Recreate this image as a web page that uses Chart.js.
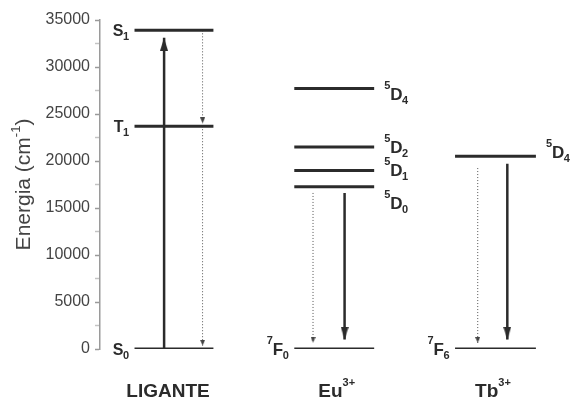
<!DOCTYPE html>
<html>
<head>
<meta charset="utf-8">
<script src="https://cdn.jsdelivr.net/npm/chart.js@4.4.1/dist/chart.umd.min.js"></script>
<style>
  html, body { margin: 0; padding: 0; background: #fff; }
  #wrap { width: 572px; height: 401px; }
</style>
</head>
<body>
<div id="wrap"><canvas id="levels"></canvas></div>
<script>
// Energy level diagram: ligand vs Eu3+ / Tb3+ (values in cm-1)
const yTickValues = [0, 2500, 5000, 7500, 10000, 12500, 15000, 17500, 20000, 22500, 25000, 27500, 30000, 32500, 35000];
const yTitle = ['Energia (cm', '-1', ')'];

const columnNames = ['LIGANTE', 'Eu', 'Tb'];
const columnCharges = ['', '3+', '3+'];

const ligandLevels = [33900, 23700, 0];
const ligandTerms = [['', 'S', '1'], ['', 'T', '1'], ['', 'S', '0']];
const euLevels = [27700, 21500, 19000, 17250, 0];
const euTerms = [['5', 'D', '4'], ['5', 'D', '2'], ['5', 'D', '1'], ['5', 'D', '0'], ['7', 'F', '0']];
const tbLevels = [20500, 0];
const tbTerms = [['5', 'D', '4'], ['7', 'F', '6']];

// transitions [from, to]
const ligandAbsorption = [0, 33100];
const ligandIsc = [33900, 24000];
const ligandDecay = [23700, 350];
const euTransfer = [16600, 670];
const euEmission = [16600, 1000];
const tbTransfer = [19250, 640];
const tbEmission = [19700, 1000];

// layout (x units), kept apart from the data
const SPAN = [[3.5, 11.5], [19.7, 27.8], [36, 44.2]];
const ARROW_X = { ligUp: 6.5, ligDot: 10.4, euDot: 21.6, euSolid: 24.8, tbDot: 38.3, tbSolid: 41.3 };
const LABEL_SHIFT = { '1:0': 5, '1:3': 16, '2:0': -4 };
const NAME_SHIFT = [-6, 2.5, -2.5];
const INK = '#2b2b2b';
const FONT = '"Liberation Sans", Arial, sans-serif';

function makeHead(w, len, color) {
  // pointing down, tip at the canvas centre
  const c = document.createElement('canvas');
  c.width = w; c.height = len * 2;
  const g = c.getContext('2d');
  g.fillStyle = color;
  g.beginPath(); g.moveTo(0, 0); g.lineTo(w, 0); g.lineTo(w / 2, len); g.closePath(); g.fill();
  return c;
}
const bigHead = makeHead(8, 13, INK);
const smallHead = makeHead(5, 6, '#444');

function levelSet(col, energies) {
  return energies.map(e => ({
    data: [{ x: SPAN[col][0], y: e }, { x: SPAN[col][1], y: e }],
    borderColor: INK, borderWidth: 3, pointRadius: 0,
  }));
}
function arrow(x, tr, dotted) {
  return {
    data: [{ x, y: tr[0] }, { x, y: tr[1] }],
    borderColor: dotted ? '#555' : INK,
    borderWidth: dotted ? 1 : 2.5,
    borderDash: dotted ? [1, 2] : [],
    pointStyle: dotted ? smallHead : bigHead,
    pointRadius: [0, 4],
    pointRotation: tr[1] > tr[0] ? 180 : 0,
  };
}

const datasets = [
  ...levelSet(0, ligandLevels), ...levelSet(1, euLevels), ...levelSet(2, tbLevels),
  arrow(ARROW_X.ligUp, ligandAbsorption, false),
  arrow(ARROW_X.ligDot, ligandIsc, true),
  arrow(ARROW_X.ligDot, ligandDecay, true),
  arrow(ARROW_X.euDot, euTransfer, true),
  arrow(ARROW_X.euSolid, euEmission, false),
  arrow(ARROW_X.tbDot, tbTransfer, true),
  arrow(ARROW_X.tbSolid, tbEmission, false),
];

function drawTerm(ctx, x, y, term, side, size) {
  const [sup, base, sub] = term;
  const small = 11;
  ctx.font = `bold ${size}px ${FONT}`;
  const bw = ctx.measureText(base).width;
  ctx.font = `bold ${small}px ${FONT}`;
  const supW = sup ? ctx.measureText(sup).width : 0;
  const subW = sub ? ctx.measureText(sub).width : 0;
  const total = supW + bw + subW;
  let left = side === 'left' ? x - total : x;
  const capH = size * 0.716;
  const baseline = y + capH / 2;
  ctx.textAlign = 'left';
  ctx.textBaseline = 'alphabetic';
  ctx.fillStyle = INK;
  if (sup) { ctx.font = `bold ${small}px ${FONT}`; ctx.fillText(sup, left, baseline - capH + 1); }
  ctx.font = `bold ${size}px ${FONT}`;
  ctx.fillText(base, left + supW, baseline);
  if (sub) { ctx.font = `bold ${small}px ${FONT}`; ctx.fillText(sub, left + supW + bw - 0.5, baseline + 4); }
}

const labelPlugin = {
  id: 'labels',
  afterDatasetsDraw(chart) {
    const { ctx, scales: { x, y }, chartArea } = chart;
    ctx.save();
    const cols = [[ligandLevels, ligandTerms], [euLevels, euTerms], [tbLevels, tbTerms]];
    cols.forEach(([lv, terms], c) => {
      lv.forEach((e, i) => {
        const left = c === 0 || e === 0;
        const px = left ? x.getPixelForValue(SPAN[c][0]) - 5 : x.getPixelForValue(SPAN[c][1]) + 10;
        const py = y.getPixelForValue(e) + (LABEL_SHIFT[c + ':' + i] || 0);
        drawTerm(ctx, px, py, terms[i], left ? 'left' : 'right', c === 0 ? 16 : 17);
      });
    });
    // column names
    columnNames.forEach((name, c) => {
      ctx.font = `bold 19px ${FONT}`;
      const w = ctx.measureText(name).width;
      ctx.font = `bold 11px ${FONT}`;
      const sw = columnCharges[c] ? ctx.measureText(columnCharges[c]).width : 0;
      const cx = x.getPixelForValue((SPAN[c][0] + SPAN[c][1]) / 2) + NAME_SHIFT[c];
      const l = cx - (w + sw) / 2;
      const bl = chartArea.bottom + 48;
      ctx.fillStyle = INK; ctx.textAlign = 'left'; ctx.textBaseline = 'alphabetic';
      ctx.font = `bold 19px ${FONT}`; ctx.fillText(name, l, bl);
      if (sw) { ctx.font = `bold 11px ${FONT}`; ctx.fillText(columnCharges[c], l + w, bl - 11); }
    });
    // y axis title, rotated
    ctx.translate(24, (chartArea.top + chartArea.bottom) / 2);
    ctx.rotate(-Math.PI / 2);
    ctx.fillStyle = '#444';
    ctx.font = `21px ${FONT}`;
    const w0 = ctx.measureText(yTitle[0]).width, w2 = ctx.measureText(yTitle[2]).width;
    ctx.font = `13px ${FONT}`;
    const w1 = ctx.measureText(yTitle[1]).width;
    let tx = -(w0 + w1 + w2) / 2;
    ctx.textBaseline = 'middle'; ctx.textAlign = 'left';
    ctx.font = `21px ${FONT}`; ctx.fillText(yTitle[0], tx, 0); tx += w0;
    ctx.font = `13px ${FONT}`; ctx.fillText(yTitle[1], tx, -8); tx += w1;
    ctx.font = `21px ${FONT}`; ctx.fillText(yTitle[2], tx, 0);
    ctx.restore();
  }
};

new Chart(document.getElementById('levels'), {
  type: 'line',
  data: { datasets },
  plugins: [labelPlugin],
  options: {
    responsive: true, maintainAspectRatio: false, animation: false, events: [],
    layout: { padding: { top: 20, bottom: 52, left: 0, right: 0 } },
    plugins: { legend: { display: false }, tooltip: { enabled: false } },
    scales: {
      x: { type: 'linear', display: false, min: 0, max: 47.2 },
      y: {
        type: 'linear', min: 0, max: 35000,
        afterBuildTicks: (s) => { s.ticks = yTickValues.map(v => ({ value: v })); },
        afterFit: (s) => { s.width = 100; },
        border: { display: true, color: '#9a9a9a', width: 1.5 },
        grid: { drawOnChartArea: false, drawTicks: true, tickLength: 5, tickWidth: 1.5,
          tickColor: (c) => (c.tick && c.tick.value % 5000 === 0) ? '#9a9a9a' : '#c4c4c4' },
        ticks: { color: '#444', padding: 5, font: { family: FONT, size: 16 },
          callback: (v) => v % 5000 === 0 ? String(v) : '' },
      },
    },
  },
});
</script>
</body>
</html>
